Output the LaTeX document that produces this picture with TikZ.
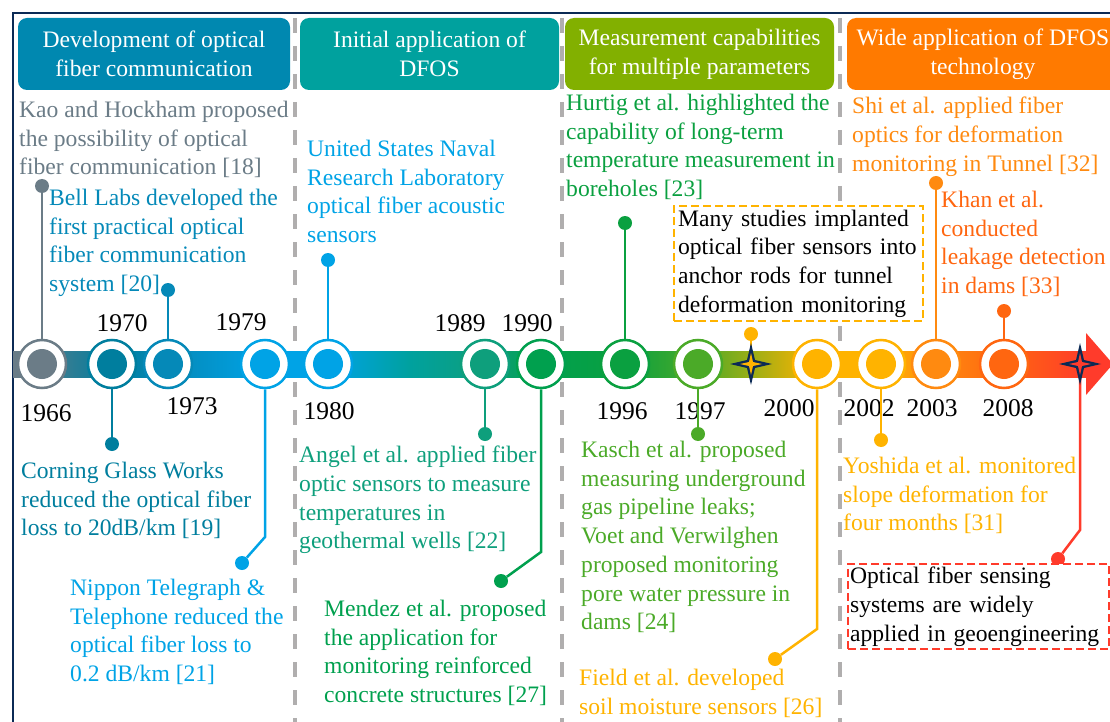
\documentclass[tikz,border=0pt]{standalone}
\usepackage{fontspec}
\setmainfont{Liberation Serif}

\definecolor{cnavy}{HTML}{0B2A55}
\definecolor{cdash}{HTML}{B0AEAE}
\definecolor{cgray}{HTML}{6B7C87}
\definecolor{chdra}{HTML}{0088B0}
\definecolor{cdteal}{HTML}{007E9E}
\definecolor{ctblue}{HTML}{0589B8}
\definecolor{csky}{HTML}{00A3E6}
\definecolor{cteal}{HTML}{00A19E}
\definecolor{cseag}{HTML}{0E9F7C}
\definecolor{cgreen}{HTML}{00A04E}
\definecolor{cgreenb}{HTML}{0AA040}
\definecolor{cleaf}{HTML}{4BAA28}
\definecolor{colive}{HTML}{82B000}
\definecolor{camber}{HTML}{FFB300}
\definecolor{chdrd}{HTML}{FF7A00}
\definecolor{corange}{HTML}{FF8A10}
\definecolor{cdorange}{HTML}{FF6610}
\definecolor{cred}{HTML}{FF3B2B}

\def\barY{364}   % height of the time line
\def\barH{13}    % half thickness of the time line

\begin{document}
\begin{tikzpicture}[x=1pt,y=-1pt,
    font=\fontsize{23.6}{28.7}\selectfont,
    header/.style={rounded corners=9, fill=#1, text=white, align=center,
      minimum height=72, inner sep=0},
    ring/.style={circle, draw=#1, line width=2.5, fill=white,
      minimum size=48, inner sep=0},
    dot/.style={circle, fill=#1, minimum size=14, inner sep=0},
    stem/.style={draw=#1, line width=2.5},
    yearlbl/.style={anchor=base, inner sep=0, font=\fontsize{25.5}{28}\selectfont},
    txt/.style={anchor=north west, align=left, inner sep=0, text=#1},
    note/.style={draw=#1, fill=white, line width=2.2, dash pattern=on 8pt off 4pt,
      anchor=north west, align=left, inner ysep=0, text=black},
    sep/.style={draw=cdash, line width=4, dash pattern=on 15pt off 13pt}]
  \useasboundingbox (0,0) rectangle (1110,722);

  % frame and period separators
  \draw[cnavy, line width=2.5] (13,722) -- (13,13) -- (1112,13);
  \foreach \sx in {295,562,840}
    \draw[sep] (\sx,18) -- (\sx,722);

  % period headers
  \node[header=chdra, minimum width=272] (h1) at (154,54)
    {Development of optical\\fiber communication};
  \node[header=cteal, minimum width=259] (h2) at (429.5,54)
    {Initial application of\\DFOS};
  \node[header=colive, minimum width=269] (h3) at (699.5,54)
    {Measurement capabilities\\for multiple parameters};
  \node[header=chdrd, minimum width=272] (h4) at (983,54)
    {Wide application of DFOS\\technology};

  % time line, shaded piece by piece
  \foreach \xa/\ca/\xb/\cb in {
      13/cgray/112/cdteal, 112/cdteal/168/ctblue, 168/ctblue/265/csky,
      265/csky/328/csky, 328/csky/410/cteal, 410/cteal/485/cseag,
      485/cseag/541/cgreen, 541/cgreen/625/cgreenb, 625/cgreenb/698/cleaf,
      698/cleaf/817/camber, 817/camber/881/camber, 881/camber/936/corange,
      936/corange/1004/cdorange, 1004/cdorange/1088/cred}
    \shade[left color=\ca, right color=\cb]
      (\xa,\barY-\barH) rectangle (\xb+0.5,\barY+\barH);
  \fill[cred] (1086,\barY-31) -- (1113,\barY) -- (1086,\barY+31) -- cycle;

  % years on the line
  \foreach \yr/\xx/\col in {
      1966/42/cgray, 1970/112/cdteal, 1973/168/ctblue, 1979/265/csky,
      1980/328/csky, 1989/485/cseag, 1990/541/cgreen, 1996/625/cgreenb,
      1997/698/cleaf, 2000/817/camber, 2002/881/camber, 2003/936/corange,
      2008/1004/cdorange} {
    \node[ring=\col] (c\yr) at (\xx,\barY) {};
    \node[dot=\col, minimum size=30] (i\yr) at (c\yr) {};
  }
  \foreach \yr/\lx/\ly in {
      1966/46/421, 1970/122/331, 1973/192/414, 1979/241/330, 1980/329/419,
      1989/460/331, 1990/527/331, 1996/622/419, 1997/700/419, 2000/789/416,
      2002/869/416, 2003/932/416, 2008/1008/416}
    \node[yearlbl] (y\yr) at (\lx,\ly) {\yr};

  % end dots and bends of the connectors
  \foreach \dn/\dx/\dy/\col in {
      d1966/42/186/cgray, d1970/112/444/cdteal, d1973/168/290/ctblue,
      d1979/242/563/csky, d1980/328/260/csky, d1989/485/434/cseag,
      d1990/501/581/cgreen, d1996/625/223/cgreenb, d1997/698/434/cleaf,
      ds1/751/334/camber, d2000/775/659/camber, d2002/881/440/camber,
      d2003/936/183/corange, d2008/1004/311/cdorange, ds2/1058/559/cred}
    \node[dot=\col] (\dn) at (\dx,\dy) {};
  \coordinate (k1979) at (265,537);
  \coordinate (k1990) at (541,552);
  \coordinate (k2000) at (817,629);
  \coordinate (ks2) at (1080,530);
  \coordinate (s1) at (751,\barY);
  \coordinate (s2) at (1080,\barY);

  % connectors
  \foreach \a/\b/\col in {
      c1966/d1966/cgray, c1970/d1970/cdteal, c1973/d1973/ctblue,
      c1980/d1980/csky, c1989/d1989/cseag, c1996/d1996/cgreenb,
      c1997/d1997/cleaf, c2002/d2002/camber, c2003/d2003/corange,
      c2008/d2008/cdorange, s1/ds1/camber}
    \draw[stem=\col] (\a) -- (\b);
  \foreach \a/\k/\b/\col in {
      c1979/k1979/d1979/csky, c1990/k1990/d1990/cgreen,
      c2000/k2000/d2000/camber, s2/ks2/ds2/cred}
    \draw[stem=\col] (\a) -- (\k) -- (\b);

  % four-point stars
  \foreach \sn/\sc in {s1/camber, s2/cred} {
    \fill[cnavy, shift={(\sn)}] (-21,0) -- (-4,-4) -- (0,-21) -- (4,-4)
      -- (21,0) -- (4,4) -- (0,21) -- (-4,4) -- cycle;
    \fill[\sc, shift={(\sn)}] (-11,0) -- (-2,-2) -- (0,-11) -- (2,-2)
      -- (11,0) -- (2,2) -- (0,11) -- (-2,2) -- cycle;
  }

  % events
  \node[txt=cgray] (tKao) at (19,101)
    {Kao and Hockham proposed\\the possibility of optical\\fiber communication [18]};
  \node[txt=ctblue] (tBell) at (49,189)
    {Bell Labs developed the\\first practical optical\\fiber communication\\system [20]};
  \node[txt=cdteal] (tCorning) at (21,462)
    {Corning Glass Works\\reduced the optical fiber\\loss to 20dB/km [19]};
  \node[txt=csky] (tNippon) at (70,579)
    {Nippon Telegraph \&\\Telephone reduced the\\optical fiber loss to\\0.2 dB/km [21]};
  \node[txt=csky] (tNaval) at (307,140)
    {United States Naval\\Research Laboratory\\optical fiber acoustic\\sensors};
  \node[txt=cseag] (tAngel) at (299,446)
    {Angel et al. applied fiber\\optic sensors to measure\\temperatures in\\geothermal wells [22]};
  \node[txt=cgreen] (tMendez) at (324,600)
    {Mendez et al. proposed\\the application for\\monitoring reinforced\\concrete structures [27]};
  \node[txt=cgreenb] (tHurtig) at (566,94)
    {Hurtig et al. highlighted the\\capability of long-term\\temperature measurement in\\boreholes [23]};
  \node[note=camber, inner xsep=4, text width=241, minimum height=115] (tAnchor) at (673,205)
    {Many studies implanted\\optical fiber sensors into\\anchor rods for tunnel\\deformation monitoring};
  \node[txt=cleaf] (tKasch) at (581,441)
    {Kasch et al. proposed\\measuring underground\\gas pipeline leaks;\\Voet and Verwilghen\\proposed monitoring\\pore water pressure in\\dams [24]};
  \node[txt=camber] (tField) at (579,669)
    {Field et al. developed\\soil moisture sensors [26]};
  \node[txt=corange] (tShi) at (852,97)
    {Shi et al. applied fiber\\optics for deformation\\monitoring in Tunnel [32]};
  \node[txt=cdorange] (tKhan) at (941,191)
    {Khan et al.\\conducted\\leakage detection\\in dams [33]};
  \node[txt=camber] (tYoshida) at (843,457)
    {Yoshida et al. monitored\\slope deformation for\\four months [31]};
  \node[note=cred, inner xsep=2, text width=257, minimum height=85] (tGeo) at (847,563)
    {Optical fiber sensing\\systems are widely\\applied in geoengineering};
\end{tikzpicture}
\end{document}
